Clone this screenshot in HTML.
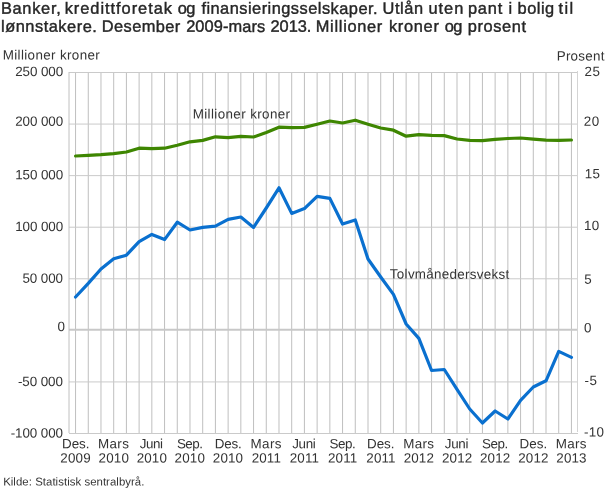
<!DOCTYPE html>
<html lang="no">
<head>
<meta charset="utf-8">
<title>Banker, kredittforetak og finansieringsselskaper</title>
<style>
html,body{margin:0;padding:0;background:#fff;}
body{width:610px;height:488px;overflow:hidden;font-family:'Liberation Sans', sans-serif;}
svg text{white-space:pre;}
</style>
</head>
<body>
<svg width="610" height="488" viewBox="0 0 610 488" style="display:block;font-family:'Liberation Sans', sans-serif">
<rect x="0" y="0" width="610" height="488" fill="#ffffff"/>
<g stroke="#bfbfbf" stroke-width="1">
<line x1="75.55" y1="72" x2="75.55" y2="434"/>
<line x1="88.27" y1="72" x2="88.27" y2="434"/>
<line x1="100.98" y1="72" x2="100.98" y2="434"/>
<line x1="113.69" y1="72" x2="113.69" y2="434"/>
<line x1="126.41" y1="72" x2="126.41" y2="434"/>
<line x1="139.12" y1="72" x2="139.12" y2="434"/>
<line x1="151.84" y1="72" x2="151.84" y2="434"/>
<line x1="164.56" y1="72" x2="164.56" y2="434"/>
<line x1="177.27" y1="72" x2="177.27" y2="434"/>
<line x1="189.99" y1="72" x2="189.99" y2="434"/>
<line x1="202.70" y1="72" x2="202.70" y2="434"/>
<line x1="215.42" y1="72" x2="215.42" y2="434"/>
<line x1="228.13" y1="72" x2="228.13" y2="434"/>
<line x1="240.84" y1="72" x2="240.84" y2="434"/>
<line x1="253.56" y1="72" x2="253.56" y2="434"/>
<line x1="266.27" y1="72" x2="266.27" y2="434"/>
<line x1="278.99" y1="72" x2="278.99" y2="434"/>
<line x1="291.70" y1="72" x2="291.70" y2="434"/>
<line x1="304.42" y1="72" x2="304.42" y2="434"/>
<line x1="317.13" y1="72" x2="317.13" y2="434"/>
<line x1="329.85" y1="72" x2="329.85" y2="434"/>
<line x1="342.56" y1="72" x2="342.56" y2="434"/>
<line x1="355.28" y1="72" x2="355.28" y2="434"/>
<line x1="368.00" y1="72" x2="368.00" y2="434"/>
<line x1="380.71" y1="72" x2="380.71" y2="434"/>
<line x1="393.43" y1="72" x2="393.43" y2="434"/>
<line x1="406.14" y1="72" x2="406.14" y2="434"/>
<line x1="418.86" y1="72" x2="418.86" y2="434"/>
<line x1="431.57" y1="72" x2="431.57" y2="434"/>
<line x1="444.29" y1="72" x2="444.29" y2="434"/>
<line x1="457.00" y1="72" x2="457.00" y2="434"/>
<line x1="469.72" y1="72" x2="469.72" y2="434"/>
<line x1="482.43" y1="72" x2="482.43" y2="434"/>
<line x1="495.14" y1="72" x2="495.14" y2="434"/>
<line x1="507.86" y1="72" x2="507.86" y2="434"/>
<line x1="520.57" y1="72" x2="520.57" y2="434"/>
<line x1="533.29" y1="72" x2="533.29" y2="434"/>
<line x1="546.00" y1="72" x2="546.00" y2="434"/>
<line x1="558.72" y1="72" x2="558.72" y2="434"/>
<line x1="571.43" y1="72" x2="571.43" y2="434"/>
</g>
<g stroke="#cacaca" stroke-width="1">
<line x1="69" y1="72.50" x2="578" y2="72.50"/>
<line x1="69" y1="124.07" x2="578" y2="124.07"/>
<line x1="69" y1="175.64" x2="578" y2="175.64"/>
<line x1="69" y1="227.21" x2="578" y2="227.21"/>
<line x1="69" y1="278.79" x2="578" y2="278.79"/>
<line x1="69" y1="381.93" x2="578" y2="381.93"/>
<line x1="69" y1="433.50" x2="578" y2="433.50"/>
</g>
<line x1="69" y1="329.86" x2="578" y2="329.86" stroke="#c8c8c8" stroke-width="2"/>
<line x1="69" y1="72" x2="69" y2="433" stroke="#c0c0c0" stroke-width="1"/>
<line x1="577.5" y1="71" x2="577.5" y2="432" stroke="#d4d4d4" stroke-width="1"/>
<path d="M75.55 156.00 L88.27 155.40 L100.98 154.70 L113.69 153.60 L126.41 152.00 L139.12 148.20 L151.84 148.60 L164.56 148.20 L177.27 145.20 L189.99 141.80 L202.70 140.40 L215.42 136.80 L228.13 137.60 L240.84 136.40 L253.56 137.00 L266.27 132.40 L278.99 127.20 L291.70 127.70 L304.42 127.40 L317.13 124.20 L329.85 121.00 L342.56 123.00 L355.28 120.20 L368.00 124.20 L380.71 128.00 L393.43 130.20 L406.14 136.20 L418.86 134.60 L431.57 135.40 L444.29 135.60 L457.00 139.00 L469.72 140.40 L482.43 140.60 L495.14 139.40 L507.86 138.50 L520.57 138.00 L533.29 139.20 L546.00 140.20 L558.72 140.40 L571.43 140.00" fill="none" stroke="#3e8601" stroke-width="3.2" stroke-linejoin="round" stroke-linecap="round"/>
<path d="M75.55 297.00 L88.27 283.40 L100.98 269.00 L113.69 258.80 L126.41 255.20 L139.12 241.60 L151.84 234.40 L164.56 239.60 L177.27 222.20 L189.99 230.00 L202.70 227.40 L215.42 226.20 L228.13 219.40 L240.84 217.00 L253.56 227.40 L266.27 208.00 L278.99 187.80 L291.70 213.40 L304.42 208.60 L317.13 196.40 L329.85 198.40 L342.56 224.00 L355.28 220.00 L368.00 259.00 L380.71 277.00 L393.43 294.40 L406.14 324.00 L418.86 338.40 L431.57 370.50 L444.29 369.50 L457.00 389.40 L469.72 409.00 L482.43 423.00 L495.14 411.00 L507.86 419.00 L520.57 400.30 L533.29 387.00 L546.00 380.80 L558.72 351.40 L571.43 357.40" fill="none" stroke="#0a70cf" stroke-width="3.2" stroke-linejoin="round" stroke-linecap="round"/>
<text id="t1" font-size="16.4" fill="#262626" stroke="#262626" stroke-width="0.4" transform="rotate(0.03 0.90 13.80)"><tspan id="t1_0" x="0.90" y="13.80" textLength="59.84" lengthAdjust="spacing">Banker,</tspan> <tspan id="t1_1" x="64.71" y="13.77" textLength="107.26" lengthAdjust="spacing">kredittforetak</tspan> <tspan id="t1_2" x="177.63" y="13.71" textLength="17.84" lengthAdjust="spacing">og</tspan> <tspan id="t1_3" x="201.39" y="13.70" textLength="176.16" lengthAdjust="spacing">finansieringsselskaper.</tspan> <tspan id="t1_4" x="382.40" y="13.60" textLength="40.84" lengthAdjust="spacing">Utlån</tspan> <tspan id="t1_5" x="428.38" y="13.58" textLength="34.87" lengthAdjust="spacing">uten</tspan> <tspan id="t1_6" x="467.91" y="13.56" textLength="34.42" lengthAdjust="spacing">pant</tspan> <tspan id="t1_7" x="508.47" y="13.53" textLength="13.50" lengthAdjust="spacing">i</tspan> <tspan id="t1_8" x="517.60" y="13.53" textLength="36.59" lengthAdjust="spacing">bolig</tspan> <tspan id="t1_9" x="558.56" y="13.51" textLength="14.67" lengthAdjust="spacing">til</tspan></text>
<text id="t2" font-size="16.4" fill="#262626" stroke="#262626" stroke-width="0.4" transform="rotate(0.03 1.12 31.85)"><tspan id="t2_0" x="1.12" y="31.85" textLength="95.69" lengthAdjust="spacing">lønnstakere.</tspan> <tspan id="t2_1" x="101.77" y="31.80" textLength="78.47" lengthAdjust="spacing">Desember</tspan> <tspan id="t2_2" x="186.13" y="31.75" textLength="79.12" lengthAdjust="spacing">2009-mars</tspan> <tspan id="t2_3" x="270.57" y="31.71" textLength="40.73" lengthAdjust="spacing">2013.</tspan> <tspan id="t2_4" x="315.79" y="31.69" textLength="66.55" lengthAdjust="spacing">Millioner</tspan> <tspan id="t2_5" x="388.92" y="31.65" textLength="49.94" lengthAdjust="spacing">kroner</tspan> <tspan id="t2_6" x="444.64" y="31.62" textLength="17.85" lengthAdjust="spacing">og</tspan> <tspan id="t2_7" x="467.75" y="31.61" textLength="58.23" lengthAdjust="spacing">prosent</tspan></text>
<text id="yl" x="2.69" y="59.45" font-size="13.4" fill="#333333" textLength="97.06" lengthAdjust="spacing" transform="rotate(0.03 2.69 59.45)">Millioner kroner</text>
<text id="yr" x="556.69" y="60.45" font-size="13.4" fill="#333333" textLength="47.76" lengthAdjust="spacing" transform="rotate(0.03 556.69 60.45)">Prosent</text>
<text id="s1" x="192.69" y="118.55" font-size="13.4" fill="#333333" textLength="97.36" lengthAdjust="spacing" transform="rotate(0.03 192.69 118.55)">Millioner kroner</text>
<text id="s2" x="389.86" y="278.60" font-size="13.4" fill="#333333" textLength="119.40" lengthAdjust="spacing" transform="rotate(0.03 389.86 278.60)">Tolvmånedersvekst</text>
<text id="src" x="3.15" y="485.45" font-size="11.4" fill="#333333" textLength="141.29" lengthAdjust="spacing" transform="rotate(0.03 3.15 485.45)">Kilde: Statistisk sentralbyrå.</text>
<text id="l0" x="15.20" y="76.00" font-size="13.4" fill="#333333" textLength="47.92" lengthAdjust="spacing" transform="rotate(0.03 15.20 76.00)">250 000</text>
<text id="l1" x="15.23" y="125.85" font-size="13.4" fill="#333333" textLength="47.92" lengthAdjust="spacing" transform="rotate(0.03 15.23 125.85)">200 000</text>
<text id="l2" x="15.21" y="179.15" font-size="13.4" fill="#333333" textLength="47.92" lengthAdjust="spacing" transform="rotate(0.03 15.21 179.15)">150 000</text>
<text id="l3" x="15.20" y="231.00" font-size="13.4" fill="#333333" textLength="47.92" lengthAdjust="spacing" transform="rotate(0.03 15.20 231.00)">100 000</text>
<text id="l4" x="22.47" y="282.65" font-size="13.4" fill="#333333" textLength="40.56" lengthAdjust="spacing" transform="rotate(0.03 22.47 282.65)">50 000</text>
<text id="l5" x="57.52" y="331.10" font-size="13.4" fill="#333333" textLength="7.38" lengthAdjust="spacing" transform="rotate(0.03 57.52 331.10)">0</text>
<text id="l6" x="17.96" y="386.00" font-size="13.4" fill="#333333" textLength="44.97" lengthAdjust="spacing" transform="rotate(0.03 17.96 386.00)">-50 000</text>
<text id="l7" x="10.67" y="437.55" font-size="13.4" fill="#333333" textLength="52.35" lengthAdjust="spacing" transform="rotate(0.03 10.67 437.55)">-100 000</text>
<text id="r0" x="584.62" y="76.00" font-size="13.4" fill="#333333" textLength="15.35" lengthAdjust="spacing" transform="rotate(0.03 584.62 76.00)">25</text>
<text id="r1" x="583.87" y="125.85" font-size="13.4" fill="#333333" textLength="15.35" lengthAdjust="spacing" transform="rotate(0.03 583.87 125.85)">20</text>
<text id="r2" x="584.70" y="178.25" font-size="13.4" fill="#333333" textLength="15.35" lengthAdjust="spacing" transform="rotate(0.03 584.70 178.25)">15</text>
<text id="r3" x="583.93" y="230.05" font-size="13.4" fill="#333333" textLength="15.35" lengthAdjust="spacing" transform="rotate(0.03 583.93 230.05)">10</text>
<text id="r4" x="584.31" y="283.65" font-size="13.4" fill="#333333" textLength="7.68" lengthAdjust="spacing" transform="rotate(0.03 584.31 283.65)">5</text>
<text id="r5" x="584.05" y="332.25" font-size="13.4" fill="#333333" textLength="7.68" lengthAdjust="spacing" transform="rotate(0.03 584.05 332.25)">0</text>
<text id="r6" x="584.58" y="385.05" font-size="13.4" fill="#333333" textLength="12.28" lengthAdjust="spacing" transform="rotate(0.03 584.58 385.05)">-5</text>
<text id="r7" x="583.90" y="436.55" font-size="13.4" fill="#333333" textLength="19.94" lengthAdjust="spacing" transform="rotate(0.03 583.90 436.55)">-10</text>
<text id="xm0" x="62.06" y="448.30" font-size="13.4" fill="#333333" textLength="27.42" lengthAdjust="spacing" transform="rotate(0.03 62.06 448.30)">Des.</text>
<text id="xy0" x="60.37" y="462.50" font-size="13.4" fill="#333333" textLength="30.24" lengthAdjust="spacing" transform="rotate(0.03 60.37 462.50)">2009</text>
<text id="xm1" x="98.07" y="448.30" font-size="13.4" fill="#333333" textLength="30.78" lengthAdjust="spacing" transform="rotate(0.03 98.07 448.30)">Mars</text>
<text id="xy1" x="98.61" y="462.50" font-size="13.4" fill="#333333" textLength="30.24" lengthAdjust="spacing" transform="rotate(0.03 98.61 462.50)">2010</text>
<text id="xm2" x="139.64" y="448.30" font-size="13.4" fill="#333333" textLength="23.43" lengthAdjust="spacing" transform="rotate(0.03 139.64 448.30)">Juni</text>
<text id="xy2" x="136.67" y="462.50" font-size="13.4" fill="#333333" textLength="30.24" lengthAdjust="spacing" transform="rotate(0.03 136.67 462.50)">2010</text>
<text id="xm3" x="176.90" y="448.30" font-size="13.4" fill="#333333" textLength="26.15" lengthAdjust="spacing" transform="rotate(0.03 176.90 448.30)">Sep.</text>
<text id="xy3" x="174.60" y="462.50" font-size="13.4" fill="#333333" textLength="30.24" lengthAdjust="spacing" transform="rotate(0.03 174.60 462.50)">2010</text>
<text id="xm4" x="214.64" y="448.30" font-size="13.4" fill="#333333" textLength="27.15" lengthAdjust="spacing" transform="rotate(0.03 214.64 448.30)">Des.</text>
<text id="xy4" x="212.82" y="462.50" font-size="13.4" fill="#333333" textLength="30.24" lengthAdjust="spacing" transform="rotate(0.03 212.82 462.50)">2010</text>
<text id="xm5" x="250.45" y="448.30" font-size="13.4" fill="#333333" textLength="31.08" lengthAdjust="spacing" transform="rotate(0.03 250.45 448.30)">Mars</text>
<text id="xy5" x="251.68" y="462.50" font-size="13.4" fill="#333333" textLength="29.23" lengthAdjust="spacing" transform="rotate(0.03 251.68 462.50)">2011</text>
<text id="xm6" x="292.22" y="448.30" font-size="13.4" fill="#333333" textLength="23.61" lengthAdjust="spacing" transform="rotate(0.03 292.22 448.30)">Juni</text>
<text id="xy6" x="289.73" y="462.50" font-size="13.4" fill="#333333" textLength="29.23" lengthAdjust="spacing" transform="rotate(0.03 289.73 462.50)">2011</text>
<text id="xm7" x="329.41" y="448.30" font-size="13.4" fill="#333333" textLength="26.24" lengthAdjust="spacing" transform="rotate(0.03 329.41 448.30)">Sep.</text>
<text id="xy7" x="328.03" y="462.50" font-size="13.4" fill="#333333" textLength="29.23" lengthAdjust="spacing" transform="rotate(0.03 328.03 462.50)">2011</text>
<text id="xm8" x="367.12" y="448.30" font-size="13.4" fill="#333333" textLength="27.32" lengthAdjust="spacing" transform="rotate(0.03 367.12 448.30)">Des.</text>
<text id="xy8" x="366.32" y="462.50" font-size="13.4" fill="#333333" textLength="29.23" lengthAdjust="spacing" transform="rotate(0.03 366.32 462.50)">2011</text>
<text id="xm9" x="403.38" y="448.30" font-size="13.4" fill="#333333" textLength="30.57" lengthAdjust="spacing" transform="rotate(0.03 403.38 448.30)">Mars</text>
<text id="xy9" x="403.64" y="462.50" font-size="13.4" fill="#333333" textLength="30.24" lengthAdjust="spacing" transform="rotate(0.03 403.64 462.50)">2012</text>
<text id="xm10" x="444.86" y="448.30" font-size="13.4" fill="#333333" textLength="23.52" lengthAdjust="spacing" transform="rotate(0.03 444.86 448.30)">Juni</text>
<text id="xy10" x="441.96" y="462.50" font-size="13.4" fill="#333333" textLength="30.24" lengthAdjust="spacing" transform="rotate(0.03 441.96 462.50)">2012</text>
<text id="xm11" x="482.01" y="448.30" font-size="13.4" fill="#333333" textLength="26.31" lengthAdjust="spacing" transform="rotate(0.03 482.01 448.30)">Sep.</text>
<text id="xy11" x="480.00" y="462.50" font-size="13.4" fill="#333333" textLength="30.24" lengthAdjust="spacing" transform="rotate(0.03 480.00 462.50)">2012</text>
<text id="xm12" x="519.53" y="448.30" font-size="13.4" fill="#333333" textLength="27.58" lengthAdjust="spacing" transform="rotate(0.03 519.53 448.30)">Des.</text>
<text id="xy12" x="518.25" y="462.50" font-size="13.4" fill="#333333" textLength="30.24" lengthAdjust="spacing" transform="rotate(0.03 518.25 462.50)">2012</text>
<text id="xm13" x="555.74" y="448.30" font-size="13.4" fill="#333333" textLength="30.76" lengthAdjust="spacing" transform="rotate(0.03 555.74 448.30)">Mars</text>
<text id="xy13" x="556.28" y="462.50" font-size="13.4" fill="#333333" textLength="30.24" lengthAdjust="spacing" transform="rotate(0.03 556.28 462.50)">2013</text>
</svg>
</body>
</html>
